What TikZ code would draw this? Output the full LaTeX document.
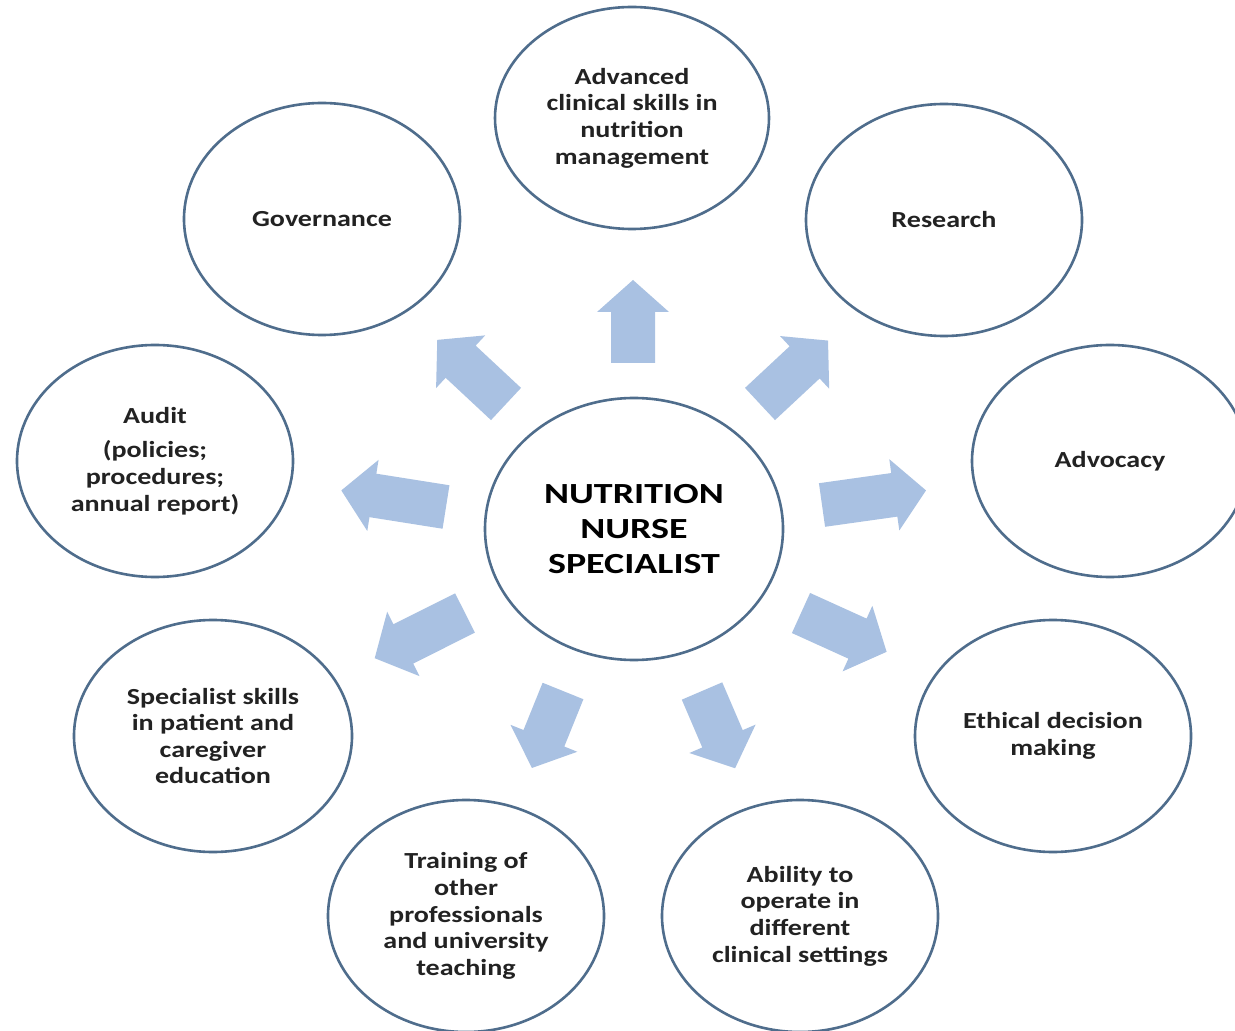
\documentclass[tikz,border=0pt]{standalone}
\usepackage{fontspec}
\usetikzlibrary{shapes.geometric}
\newfontfamily\ellfont[FakeStretch=1.22]{Carlito}
\newfontfamily\ctrfont[FakeStretch=1.3]{Carlito}
\definecolor{ringc}{HTML}{4F6D8C}
\definecolor{arrc}{HTML}{A9C1E2}
\definecolor{txtc}{HTML}{222222}
\newcommand\blockarr[4]{%
  \fill[arrc, shift={(#1,#2)}, rotate=#3]
    (0,-22) -- ({#4-32},-22) -- ({#4-32},-36) -- (#4,0) -- ({#4-32},36) -- ({#4-32},22) -- (0,22) -- cycle;}
\begin{document}
\begin{tikzpicture}[x=0.5pt,y=-0.5pt,
  ring/.style={ellipse, draw=ringc, line width=1.3pt, fill=white, inner sep=0pt,
    align=center, text=txtc, font=\ellfont\bfseries\fontsize{11.5}{13.3}\selectfont},
  hub/.style={ring, font=\ctrfont\bfseries\fontsize{14.6}{17.5}\selectfont, text=black}]
\fill[white] (0,0) rectangle (1235,1031);
\useasboundingbox (0,0) rectangle (1235,1031);

% block arrows
\blockarr{633}{363}{90}{83}
\blockarr{506}{404}{137}{94}
\blockarr{760}{404}{43}{93}
\blockarr{446}{507}{171}{106}
\blockarr{822}{505}{8}{105}
\blockarr{465}{613}{206.6}{101}
\blockarr{801}{613}{-24.4}{94}
\blockarr{563}{691}{248}{83}
\blockarr{702}{691}{-66.8}{84}

% ellipses
\node[hub, minimum width=149pt, minimum height=131pt] (nns) at (634,529)
  {NUTRITION\\NURSE\\SPECIALIST};
\node[ring, minimum width=137pt, minimum height=111pt] (adv) at (632,118)
  {Advanced\\clinical skills in\\nutrition\\management};
\node[ring, minimum width=138pt, minimum height=116pt] (gov) at (322,219) {Governance};
\node[ring, minimum width=138pt, minimum height=116pt] (res) at (944,220) {Research};
\node[ring, minimum width=138pt, minimum height=116pt] (aud) at (155,461)
  {Audit\\[4pt](policies;\\procedures;\\annual report)};
\node[ring, minimum width=138pt, minimum height=116pt] (advo) at (1110,461) {Advocacy};
\node[ring, minimum width=139pt, minimum height=116pt] (spec) at (213,736)
  {Specialist skills\\in patient and\\caregiver\\education};
\node[ring, minimum width=138pt, minimum height=116pt] (eth) at (1053,736)
  {Ethical decision\\making};
\node[ring, minimum width=138pt, minimum height=116pt] (train) at (466,916)
  {Training of\\other\\professionals\\and university\\teaching};
\node[ring, minimum width=138pt, minimum height=116pt] (abil) at (800,916)
  {Ability to\\operate in\\different\\clinical settings};
\end{tikzpicture}
\end{document}
